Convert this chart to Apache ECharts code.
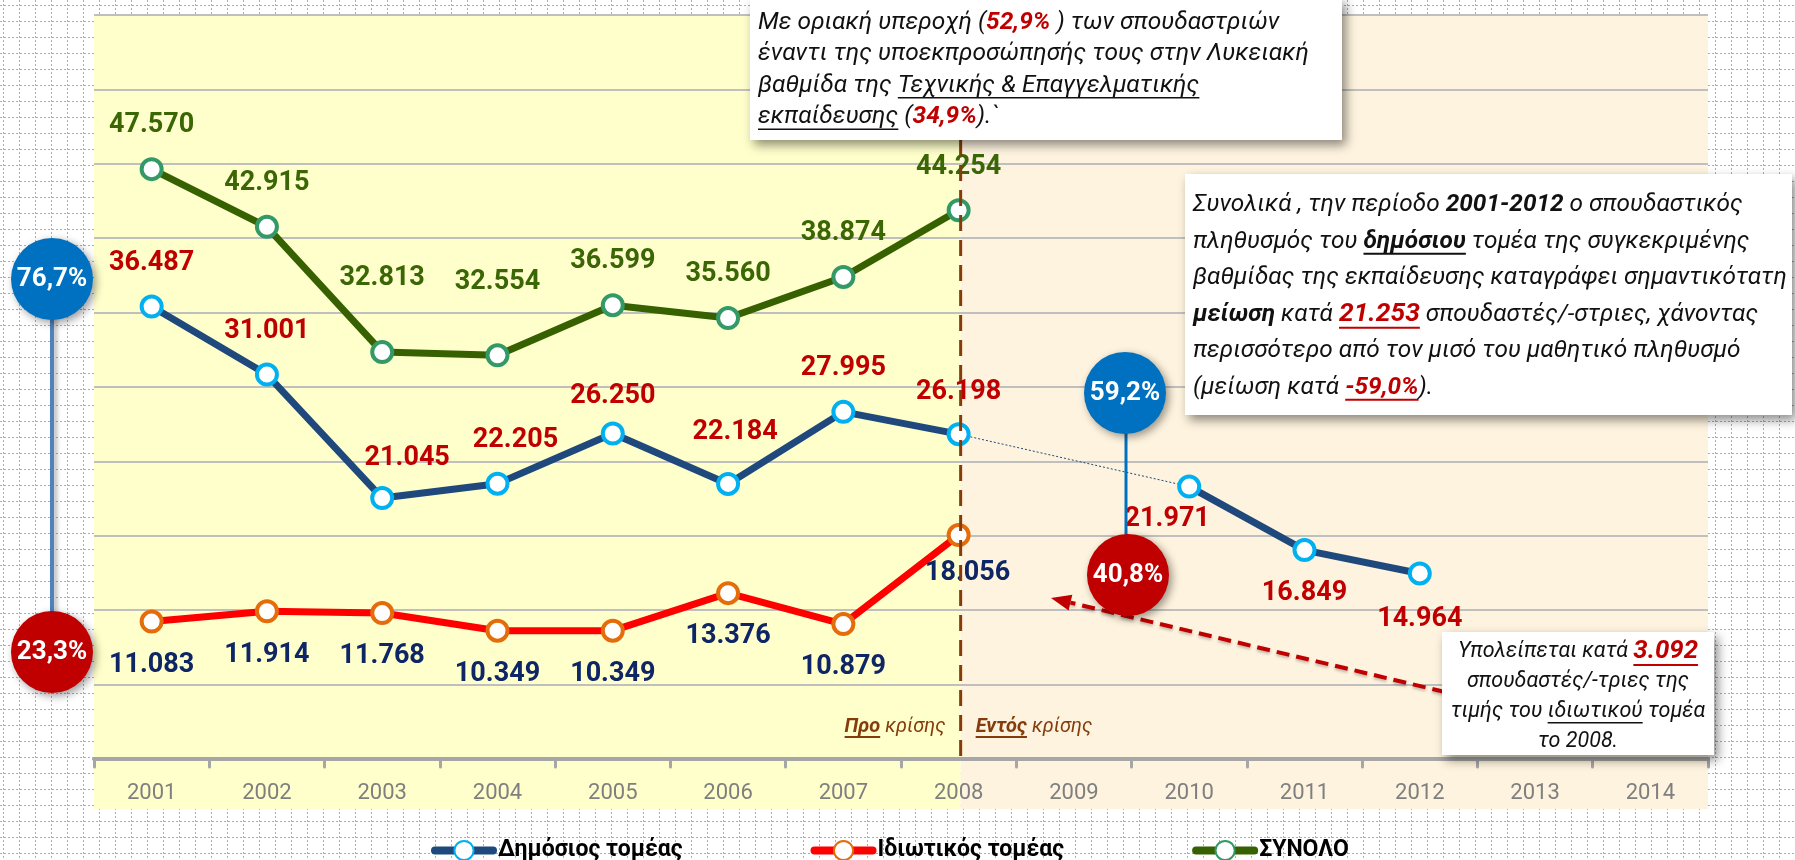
<!DOCTYPE html>
<html>
<head>
<meta charset="utf-8">
<script src="https://cdn.jsdelivr.net/npm/echarts@6/dist/echarts.min.js"></script>
<style>
  html, body { margin: 0; padding: 0; background: #ffffff; }
  #chart { width: 1795px; height: 860px; }
</style>
</head>
<body>
<div id="chart"></div>
<script>
// ---- Data: students of the upper-secondary technical & vocational level ----
const years = ['2001', '2002', '2003', '2004', '2005', '2006', '2007', '2008', '2009', '2010', '2011', '2012', '2013', '2014'];
const publicSector = [36487, 31001, 21045, 22205, 26250, 22184, 27995, 26198, null, 21971, 16849, 14964, null, null];
const privateSector = [11083, 11914, 11768, 10349, 10349, 13376, 10879, 18056, null, null, null, null, null, null];
const totalStudents = [47570, 42915, 32813, 32554, 36599, 35560, 38874, 44254, null, null, null, null, null, null];
const seriesNames = ['Δημόσιος τομέας', 'Ιδιωτικός τομέας', 'ΣΥΝΟΛΟ'];
const yMin = 0, yMax = 60000, yStep = 6000;

// ---- Look ----
const FONT = 'Roboto, "Noto Sans", "DejaVu Sans", sans-serif';
const RED = '#C00000';
const C_PUBLIC = '#1F497D', C_PUBLIC_MK = '#00B0F0', C_PUBLIC_LBL = '#C00000';
const C_PRIVATE = '#FF0000', C_PRIVATE_MK = '#E46C0A', C_PRIVATE_LBL = '#0E2566';
const C_TOTAL = '#376100', C_TOTAL_MK = '#339966', C_TOTAL_LBL = '#3A6605';
const BROWN = '#843C0C';

// per-point label nudges [dx, dy] (layout only)
const nudgeTotal = { 2: [0, -30], 3: [0, -30] };
const nudgePublic = { 2: [25, 4], 3: [18, 0], 4: [0, 6], 5: [7, -8], 7: [0, 2], 9: [-22, -11], 11: [0, 2] };
const nudgePrivate = { 7: [9, -5] };

const fmt = v => String(v).replace(/\B(?=(\d{3})+(?!\d))/g, '.');

function pointItems(values, nudges, posFor) {
  return values.map((v, i) => {
    if (v == null) return null;
    const n = nudges[i] || [0, 0];
    return { value: v, label: { position: posFor(i), offset: n } };
  });
}

// thin dotted bridge across the missing year of the public series
function gapBridge(values) {
  const out = values.map(() => null);
  for (let i = 1; i < values.length - 1; i++) {
    if (values[i] == null && values[i - 1] != null) {
      let j = i + 1;
      while (j < values.length && values[j] == null) j++;
      if (j < values.length) { out[i - 1] = values[i - 1]; out[j] = values[j]; }
    }
  }
  return out;
}

function lineSeries(name, values, lineColor, markColor, lblColor, nudges, posFor) {
  return {
    name, type: 'line', data: pointItems(values, nudges, posFor),
    symbol: 'circle', symbolSize: 20, z: 3,
    lineStyle: { color: lineColor, width: 7, cap: 'round', join: 'round' },
    itemStyle: { color: '#ffffff', borderColor: markColor, borderWidth: 4 },
    label: {
      show: true, distance: 18, color: lblColor, fontFamily: FONT,
      fontWeight: 'bold', fontSize: 27, formatter: p => fmt(p.value)
    },
    emphasis: { disabled: true }
  };
}

const chart = echarts.init(document.getElementById('chart'), null, { renderer: 'canvas' });

chart.setOption({
  animation: false,
  backgroundColor: 'transparent',
  grid: { left: 94, right: 87, top: 15, bottom: 101, containLabel: false },
  xAxis: {
    type: 'category', data: years, boundaryGap: true,
    axisLine: { lineStyle: { color: '#A6A6A6', width: 4 } },
    axisTick: { show: true, interval: 0, length: 8, lineStyle: { color: '#A6A6A6', width: 3, cap: 'round' } },
    axisLabel: { color: '#7F7F7F', fontFamily: FONT, fontSize: 22, margin: 23, interval: 0 },
    splitLine: { show: false }
  },
  yAxis: {
    type: 'value', min: yMin, max: yMax, interval: yStep,
    axisLine: { show: false }, axisTick: { show: false }, axisLabel: { show: false },
    splitLine: { show: true, lineStyle: { color: '#BFBFBF', width: 2 } }
  },
  legend: {
    data: seriesNames, left: 426, top: 834, itemGap: 128, itemWidth: 58, itemHeight: 24,
    lineStyle: { width: 8, cap: 'round' },
    textStyle: { color: '#000', fontFamily: FONT, fontWeight: 'bold', fontSize: 23 },
    selectedMode: false
  },
  series: [
    lineSeries(seriesNames[0], publicSector, C_PUBLIC, C_PUBLIC_MK, C_PUBLIC_LBL, nudgePublic,
      i => (i > 8 ? 'bottom' : 'top')),
    {
      name: 'bridge', type: 'line', data: gapBridge(publicSector), connectNulls: true,
      symbol: 'none', z: 2, silent: true,
      lineStyle: { color: C_PUBLIC, width: 1, type: [2, 2] }
    },
    lineSeries(seriesNames[1], privateSector, C_PRIVATE, C_PRIVATE_MK, C_PRIVATE_LBL, nudgePrivate, () => 'bottom'),
    lineSeries(seriesNames[2], totalStudents, C_TOTAL, C_TOTAL_MK, C_TOTAL_LBL, nudgeTotal, () => 'top')
  ]
});

// ---- Annotations ----
const mctx = document.createElement('canvas').getContext('2d');
function fontStr(size, r) {
  return (r.n ? '' : 'italic ') + (r.b ? 'bold ' : '') + Math.round(size * (r.s || 1) * 10) / 10 + 'px ' + FONT;
}
function runW(r, size) { mctx.font = fontStr(size, r); return mctx.measureText(r.t).width; }
function lineW(runs, size) { return runs.reduce((s, r) => s + runW(r, size), 0); }
function placeLine(runs, x, y, size, align, baseColor, z) {
  const w = lineW(runs, size);
  let cx = align === 'center' ? x - w / 2 : align === 'right' ? x - w : x;
  const out = [];
  runs.forEach(r => {
    const rw = runW(r, size);
    const fill = r.c || baseColor;
    out.push({
      type: 'text', z, x: cx, y, silent: true,
      style: { text: r.t, font: fontStr(size, r), fill, textAlign: 'left', textVerticalAlign: 'middle', align: 'left', verticalAlign: 'middle' }
    });
    if (r.u) {
      const uy = y + size * (r.s || 1) * 0.5;
      out.push({ type: 'line', z, silent: true, shape: { x1: cx, y1: uy, x2: cx + rw, y2: uy }, style: { stroke: fill, lineWidth: r.b ? 2 : 1.5 } });
    }
    cx += rw;
  });
  return out;
}
function textBox(box, lines, opt) {
  const fitLine = lines[opt.fitIndex];
  const size = opt.fitWidth / lineW(fitLine, 1);
  const els = [{
    type: 'rect', z: 20, silent: true,
    shape: { x: box.x, y: box.y, width: box.w, height: box.h },
    style: { fill: '#ffffff', shadowBlur: 10, shadowOffsetX: 4, shadowOffsetY: 5, shadowColor: 'rgba(0,0,0,0.45)' }
  }];
  lines.forEach((ln, k) => {
    els.push(...placeLine(ln, opt.x, opt.y0 + k * opt.step, size, opt.align, '#111111', 21));
  });
  return els;
}
function bubble(cx, cy, r, color, text) {
  return [
    { type: 'circle', z: 22, silent: true, shape: { cx, cy, r },
      style: { fill: color, shadowBlur: 8, shadowOffsetX: 3, shadowOffsetY: 3, shadowColor: 'rgba(0,0,0,0.4)' } },
    { type: 'text', z: 23, silent: true, x: cx, y: cy,
      style: { text, font: 'bold 26px ' + FONT, fill: '#ffffff', textAlign: 'center', textVerticalAlign: 'middle', align: 'center', verticalAlign: 'middle' } }
  ];
}

function drawAnnotations() {
  const px = c => chart.convertToPixel({ xAxisIndex: 0 }, c);
  const band = px('2002') - px('2001');
  const xDash = px('2008') + 2;
  const xL = px('2001') - band / 2;
  const xR = px('2014') + band / 2;
  const yTop = chart.convertToPixel({ yAxisIndex: 0 }, yMax);
  const yAxis0 = chart.convertToPixel({ yAxisIndex: 0 }, yMin);
  const yBottom = yAxis0 + 50;

  const els = [];
  // dotted sheet grid behind everything
  for (let x = 3.5; x < 1795; x += 16) {
    els.push({ type: 'line', z: -5, silent: true, shape: { x1: x, y1: 0, x2: x, y2: 860 },
      style: { stroke: '#aeaeae', lineWidth: 1, lineDash: [2, 2] } });
  }
  for (let y = 5.5; y < 860; y += 16) {
    els.push({ type: 'line', z: -5, silent: true, shape: { x1: 0, y1: y, x2: 1795, y2: y },
      style: { stroke: '#aeaeae', lineWidth: 1, lineDash: [2, 2] } });
  }
  els.push(
    { type: 'rect', z: -4, silent: true, shape: { x: xL, y: yTop, width: xDash - xL, height: yBottom - yTop }, style: { fill: '#FFFFCC' } },
    { type: 'rect', z: -4, silent: true, shape: { x: xDash, y: yTop, width: xR - xDash, height: yBottom - yTop }, style: { fill: '#FEF3DE' } },
    // crisis divider
    { type: 'line', z: 15, silent: true, shape: { x1: xDash, y1: 140, x2: xDash, y2: yAxis0 },
      style: { stroke: BROWN, lineWidth: 3, lineDash: [16, 9] } }
  );

  els.push(...placeLine([{ t: 'Προ', b: true, u: true }, { t: ' κρίσης' }], xDash - 15, 727, 20, 'right', BROWN, 16));
  els.push(...placeLine([{ t: 'Εντός', b: true, u: true }, { t: ' κρίσης' }], xDash + 15, 727, 20, 'left', BROWN, 16));

  // share bubbles with connectors
  els.push({ type: 'line', z: 21, silent: true, shape: { x1: 52, y1: 300, x2: 52, y2: 640 },
    style: { stroke: '#4F81BD', lineWidth: 4, shadowBlur: 4, shadowOffsetX: 3, shadowColor: 'rgba(0,0,0,0.3)' } });
  els.push({ type: 'line', z: 21, silent: true, shape: { x1: 1126, y1: 410, x2: 1126, y2: 560 },
    style: { stroke: '#0070C0', lineWidth: 3 } });
  els.push(...bubble(52, 279, 41, '#0070C0', '76,7%'));
  els.push(...bubble(52, 652, 41, '#C00000', '23,3%'));
  els.push(...bubble(1125, 393, 41, '#0070C0', '59,2%'));
  els.push(...bubble(1128, 575, 41, '#C00000', '40,8%'));

  // dashed arrow from the note toward the 2008 private value
  const ax0 = 1445, ay0 = 692, ax1 = 1051, ay1 = 598;
  const dx = ax1 - ax0, dy = ay1 - ay0, len = Math.hypot(dx, dy);
  const ux = dx / len, uy = dy / len, head = 20, half = 8;
  const bx = ax1 - ux * head, by = ay1 - uy * head;
  els.push({ type: 'line', z: 19, silent: true, shape: { x1: ax0, y1: ay0, x2: bx, y2: by },
    style: { stroke: RED, lineWidth: 4, lineDash: [13, 7], shadowBlur: 3, shadowOffsetY: 2, shadowColor: 'rgba(0,0,0,0.25)' } });
  els.push({ type: 'polygon', z: 19, silent: true,
    shape: { points: [[ax1, ay1], [bx - uy * half, by + ux * half], [bx + uy * half, by - ux * half]] },
    style: { fill: RED } });

  // note boxes
  els.push(...textBox({ x: 750, y: -2, w: 592, h: 142 }, [
    [{ t: 'Με οριακή υπεροχή (' }, { t: '52,9%', b: true, c: RED }, { t: ' ) των σπουδαστριών' }],
    [{ t: 'έναντι της υποεκπροσώπησής τους στην Λυκειακή' }],
    [{ t: 'βαθμίδα της ' }, { t: 'Τεχνικής & Επαγγελματικής', u: true }],
    [{ t: 'εκπαίδευσης', u: true }, { t: ' (' }, { t: '34,9%', b: true, c: RED }, { t: ').`' }]
  ], { x: 758, y0: 23, step: 31.3, align: 'left', fitIndex: 1, fitWidth: 551 }));

  els.push(...textBox({ x: 1185, y: 174, w: 607, h: 241 }, [
    [{ t: 'Συνολικά , την περίοδο ' }, { t: '2001-2012', b: true }, { t: ' ο σπουδαστικός' }],
    [{ t: 'πληθυσμός του ' }, { t: 'δημόσιου', b: true, u: true }, { t: ' τομέα της συγκεκριμένης' }],
    [{ t: 'βαθμίδας της εκπαίδευσης καταγράφει σημαντικότατη' }],
    [{ t: 'μείωση', b: true }, { t: ' κατά ' }, { t: '21.253', b: true, u: true, c: RED, s: 1.08 }, { t: ' σπουδαστές/-στριες, χάνοντας' }],
    [{ t: 'περισσότερο από τον μισό του μαθητικό πληθυσμό' }],
    [{ t: '(μείωση κατά ' }, { t: '-59,0%', b: true, u: true, c: RED }, { t: ').' }]
  ], { x: 1193, y0: 205, step: 36.5, align: 'left', fitIndex: 2, fitWidth: 595 }));

  els.push(...textBox({ x: 1442, y: 632, w: 272, h: 123 }, [
    [{ t: 'Υπολείπεται κατά ' }, { t: '3.092', b: true, u: true, c: RED, s: 1.2 }],
    [{ t: 'σπουδαστές/-τριες της' }],
    [{ t: 'τιμής του ' }, { t: 'ιδιωτικού', u: true }, { t: ' τομέα' }],
    [{ t: 'το 2008.' }]
  ], { x: 1578, y0: 652, step: 30, align: 'center', fitIndex: 2, fitWidth: 255 }));

  chart.setOption({ graphic: { elements: els } });
}
drawAnnotations();
</script>
</body>
</html>
